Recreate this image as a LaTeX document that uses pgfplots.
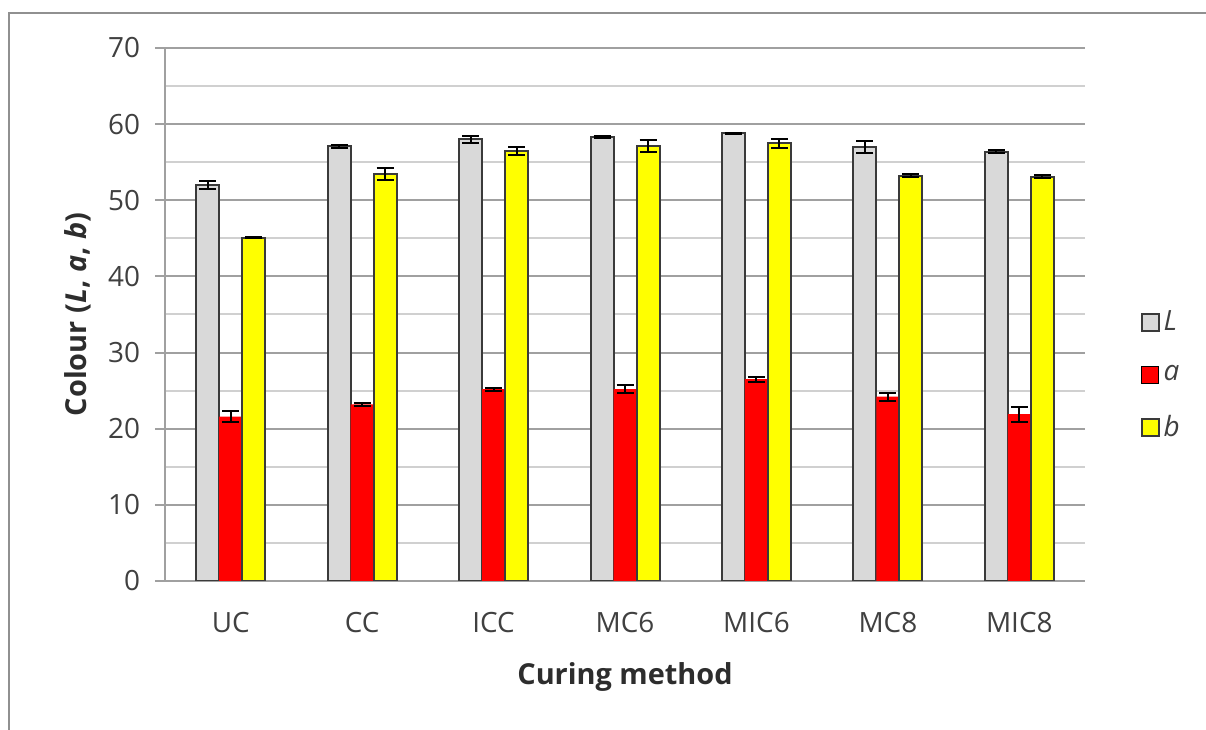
\documentclass[border=0pt]{standalone}
\usepackage{fontspec}
\setmainfont{Open Sans}
\usepackage{pgfplots}
\pgfplotsset{compat=1.18}
\usepackage{pgfplotstable}
\definecolor{barL}{HTML}{D9D9D9}
\definecolor{barA}{HTML}{FF0000}
\definecolor{barB}{HTML}{FFFF00}
\definecolor{edge}{HTML}{3A3A3A}
\definecolor{majgrid}{HTML}{A0A0A0}
\definecolor{mingrid}{HTML}{D0D0D0}
\definecolor{txt}{HTML}{404040}

\pgfplotstableread{
x  L     Le    a     ae    b     be
0  52.0  0.5   21.6  0.75  45.1  0.1
1  57.1  0.2   23.2  0.2   53.5  0.8
2  58.0  0.5   25.2  0.2   56.5  0.55
3  58.3  0.1   25.2  0.5   57.1  0.8
4  58.8  0.05  26.5  0.35  57.5  0.6
5  57.0  0.8   24.2  0.55  53.2  0.2
6  56.4  0.2   21.9  1.0   53.1  0.2
}\datatable

\begin{document}
\begin{tikzpicture}
\path[use as bounding box] (0,0) rectangle (603bp,365bp);
\draw[color=majgrid!90!black, line width=1bp] (4.5bp,0) -- (4.5bp,358.5bp) -- (603bp,358.5bp);
\begin{axis}[
  at={(82.5bp,74.5bp)}, anchor=south west,
  scale only axis, width=460bp, height=266.5bp,
  ybar=0pt, bar width=11.5bp,
  xmin=-0.5, xmax=6.5, ymin=0, ymax=70,
  xtick={0,...,6},
  xticklabels={UC,CC,ICC,MC6,MIC6,MC8,MIC8},
  ytick={0,10,...,70},
  minor y tick num=1,
  ymajorgrids, yminorgrids,
  major grid style={majgrid, line width=1bp},
  minor grid style={mingrid, line width=1bp},
  axis x line*=bottom, axis y line*=left,
  axis line style={majgrid, line width=1bp, -},
  x tick style={draw=none},
  major y tick style={majgrid, line width=1bp},
  minor y tick style={draw=none},
  tick align=outside,
  major tick length=5bp,
  tick label style={font=\fontsize{14}{16}\selectfont, text=txt},
  /pgf/number format/assume math mode=true,
  yticklabel style={anchor=east, xshift=-4bp},
  xticklabel style={anchor=center, yshift=-16bp},
  every axis y label/.style={at={(axis description cs:-0.0946,0.5)}, rotate=90, anchor=center},
  every axis x label/.style={at={(axis description cs:0.5,-0.18)}, anchor=center},
  label style={font=\bfseries\fontsize{14.5}{17}\selectfont, text=txt!70!black},
  ylabel={Colour (\textit{L}, \textit{a}, \textit{b})},
  xlabel={Curing method},
  legend style={at={(axis description cs:1.06,0.386)}, anchor=west, draw=none, fill=none,
    font=\fontsize{14}{16}\selectfont\itshape, text=txt, row sep=12bp, inner sep=0pt,
    cells={anchor=west}},
  legend image code/.code={\draw[#1] (0bp,-4.25bp) rectangle (8.5bp,4.25bp);},
  error bars/error mark=|,
  error bars/error bar style={draw=black, line width=1bp, solid},
  error bars/error mark options={draw=black, line width=1bp, mark size=4.25bp},
]
\addplot[fill=barL, draw=edge, line width=1bp,
  error bars/.cd, y dir=both, y explicit]
  table[x=x, y=L, y error=Le]{\datatable};
\addplot[fill=barA, draw=none,
  error bars/.cd, y dir=both, y explicit]
  table[x=x, y=a, y error=ae]{\datatable};
\addplot[fill=barB, draw=edge, line width=1bp,
  error bars/.cd, y dir=both, y explicit]
  table[x=x, y=b, y error=be]{\datatable};
\legend{L,a,b}
\end{axis}
\end{tikzpicture}
\end{document}
